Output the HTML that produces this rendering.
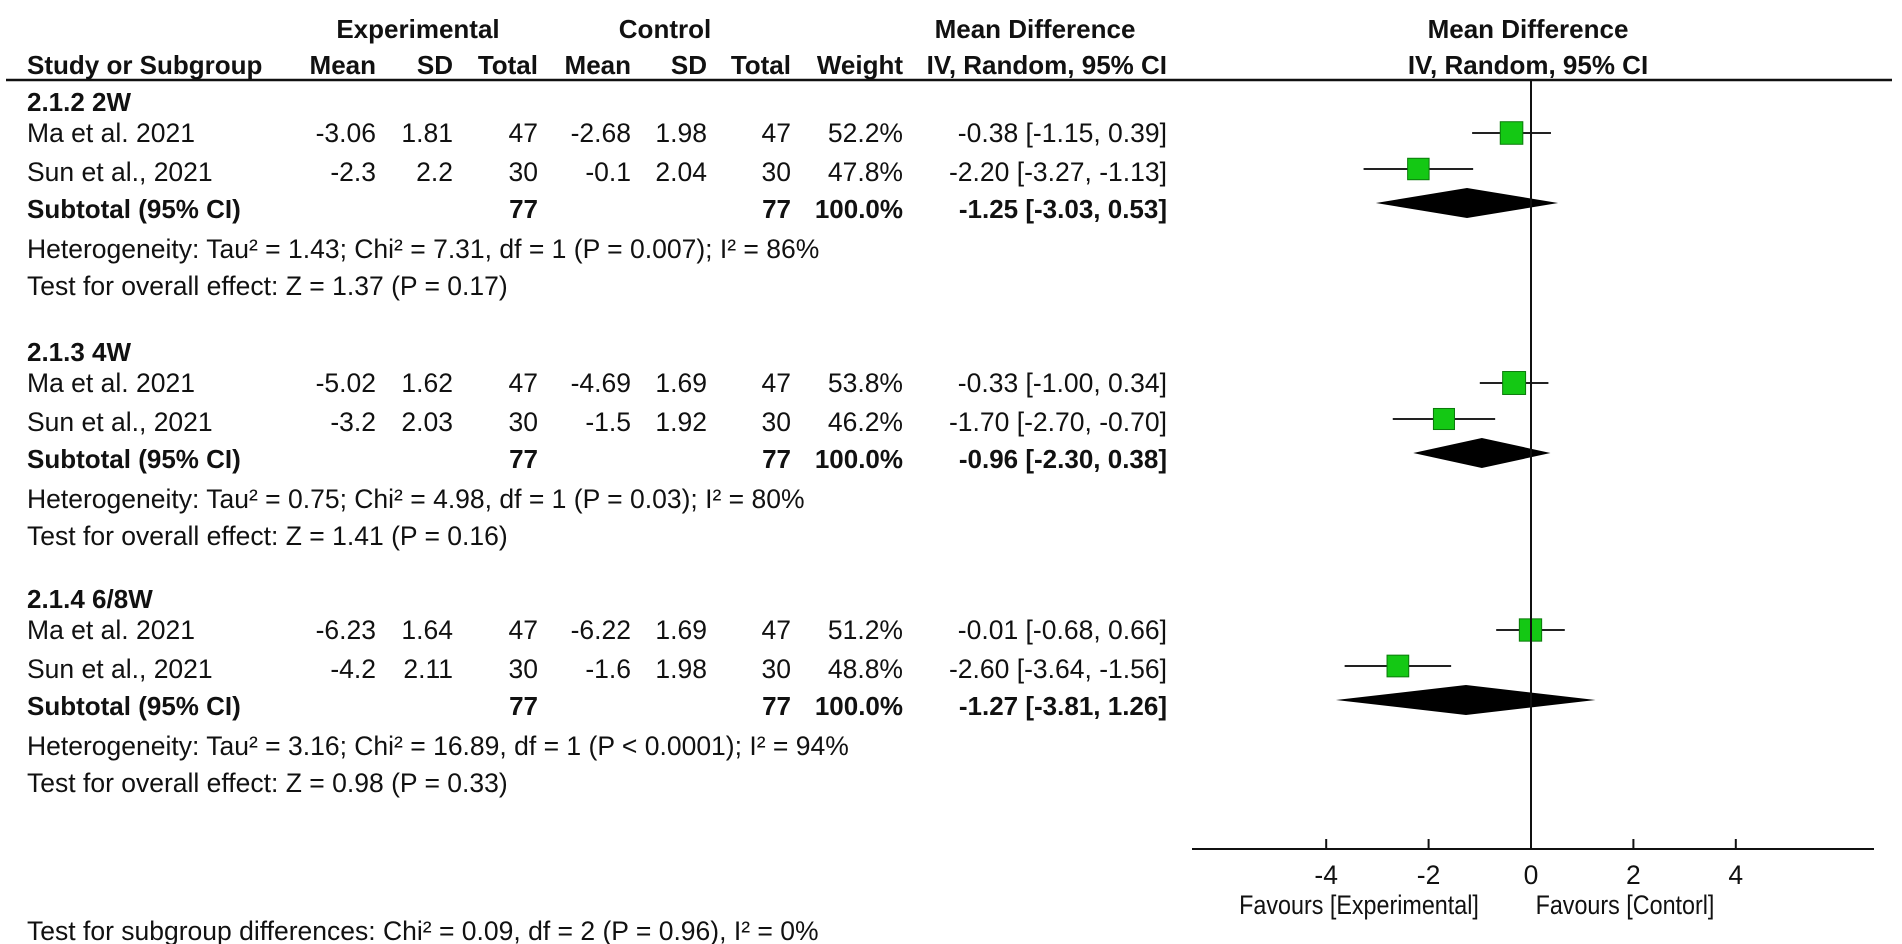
<!DOCTYPE html>
<html><head><meta charset="utf-8"><style>
html,body{margin:0;padding:0;background:#fff;}
svg{display:block;}
text{font-family:"Liberation Sans",sans-serif;font-size:26.5px;fill:#111;}
.b{font-weight:bold;font-size:26px;}
</style></head><body>
<svg id="fp" width="1902" height="944" viewBox="0 0 1902 944" xmlns="http://www.w3.org/2000/svg">
<g id="hdr">
<text x="418" y="38" text-anchor="middle" class="b">Experimental</text>
<text x="665" y="38" text-anchor="middle" class="b">Control</text>
<text x="1035" y="38" text-anchor="middle" class="b">Mean Difference</text>
<text x="1528" y="38" text-anchor="middle" class="b">Mean Difference</text>
<text x="27" y="74" class="b">Study or Subgroup</text>
<text x="1167" y="74" text-anchor="end" class="b">IV, Random, 95% CI</text>
<text x="1528" y="74" text-anchor="middle" class="b">IV, Random, 95% CI</text>
<line x1="6" y1="80" x2="1892" y2="80" stroke="#111" stroke-width="2.5"/>
</g>
<g id="tbl"></g>
<g id="plot"></g>
</svg>
<script>
const groups = ["2.1.2 2W","2.1.3 4W","2.1.4 6/8W"];
const studies = ["Ma et al. 2021","Sun et al., 2021"];
const expMean = [["-3.06","-2.3"],["-5.02","-3.2"],["-6.23","-4.2"]];
const expSD = [["1.81","2.2"],["1.62","2.03"],["1.64","2.11"]];
const expN = [["47","30"],["47","30"],["47","30"]];
const ctlMean = [["-2.68","-0.1"],["-4.69","-1.5"],["-6.22","-1.6"]];
const ctlSD = [["1.98","2.04"],["1.69","1.92"],["1.69","1.98"]];
const ctlN = [["47","30"],["47","30"],["47","30"]];
const weights = [[52.2,47.8],[53.8,46.2],[51.2,48.8]];
const md = [[-0.38,-2.20],[-0.33,-1.70],[-0.01,-2.60]];
const lo = [[-1.15,-3.27],[-1.00,-2.70],[-0.68,-3.64]];
const hi = [[0.39,-1.13],[0.34,-0.70],[0.66,-1.56]];
const subMd = [-1.25,-0.96,-1.27];
const subLo = [-3.03,-2.30,-3.81];
const subHi = [0.53,0.38,1.26];
const hetText = ["Heterogeneity: Tau² = 1.43; Chi² = 7.31, df = 1 (P = 0.007); I² = 86%","Heterogeneity: Tau² = 0.75; Chi² = 4.98, df = 1 (P = 0.03); I² = 80%","Heterogeneity: Tau² = 3.16; Chi² = 16.89, df = 1 (P < 0.0001); I² = 94%"];
const testText = ["Test for overall effect: Z = 1.37 (P = 0.17)","Test for overall effect: Z = 1.41 (P = 0.16)","Test for overall effect: Z = 0.98 (P = 0.33)"];
const ticks = [-4,-2,0,2,4];

const NS="http://www.w3.org/2000/svg";
const X0=1531, PX=51.2;
function xs(v){return X0+v*PX;}
function f2(v){return (v<0?"-":"")+Math.abs(v).toFixed(2);}
const tbl=document.getElementById('tbl'), plot=document.getElementById('plot'), hdr=document.getElementById('hdr');
function txt(parent,x,y,s,anchor,bold,sx){
  const t=document.createElementNS(NS,'text');
  if(sx){t.setAttribute('x',0);t.setAttribute('y',0);t.setAttribute('transform','translate('+x+','+y+') scale('+sx+',1)');}
  else{t.setAttribute('x',x);t.setAttribute('y',y);}
  if(anchor)t.setAttribute('text-anchor',anchor);
  if(bold)t.setAttribute('class','b');
  t.textContent=s;parent.appendChild(t);return t;
}
function el(parent,tag,attrs){const e=document.createElementNS(NS,tag);for(const k in attrs)e.setAttribute(k,attrs[k]);parent.appendChild(e);return e;}

const colX=[376,453,538,631,707,791,903];
const colHdr=["Mean","SD","Total","Mean","SD","Total","Weight"];
colHdr.forEach((h,i)=>{
  const t=txt(hdr,colX[i],74,h,'end',true);
  
  
});

const groupTop=[102,352,599];
const fmtCI=(m,l,h)=>f2(m)+" ["+f2(l)+", "+f2(h)+"]";
groups.forEach((g,gi)=>{
  const y0=groupTop[gi];
  const t=txt(tbl,27,y0+9,g,null,true);
  
  
  const textY=[y0+31,y0+70];
  const markY=[y0+31,y0+67];
  studies.forEach((s,si)=>{
    const y=markY[si], b=textY[si]+9;
    const r=el(tbl,'g',{});
    
    
    txt(r,27,b,s);
    txt(r,colX[0],b,expMean[gi][si],'end');
    txt(r,colX[1],b,expSD[gi][si],'end');
    txt(r,colX[2],b,expN[gi][si],'end');
    txt(r,colX[3],b,ctlMean[gi][si],'end');
    txt(r,colX[4],b,ctlSD[gi][si],'end');
    txt(r,colX[5],b,ctlN[gi][si],'end');
    txt(r,colX[6],b,weights[gi][si].toFixed(1)+"%",'end');
    txt(r,1167,b,fmtCI(md[gi][si],lo[gi][si],hi[gi][si]),'end');
    const ci=el(plot,'line',{x1:xs(lo[gi][si]),x2:xs(hi[gi][si]),y1:y,y2:y,stroke:'#222','stroke-width':2});
    
    
    const sz=22+(weights[gi][si]-50)*0.25;
    const sq=el(plot,'rect',{x:xs(md[gi][si])-sz/2,y:y-sz/2,width:sz,height:sz,fill:'#14c814',stroke:'#0a7a0a','stroke-width':1});
    
    
  });
  const ys=y0+101, bs=y0+107+9;
  const sr=el(tbl,'g',{});
  
  
  txt(sr,27,bs,"Subtotal (95% CI)",null,true);
  txt(sr,colX[2],bs,"77",'end',true);
  txt(sr,colX[5],bs,"77",'end',true);
  txt(sr,colX[6],bs,"100.0%",'end',true);
  txt(sr,1167,bs,fmtCI(subMd[gi],subLo[gi],subHi[gi]),'end',true);
  const h=txt(tbl,27,y0+156,hetText[gi]);
  
  
  const te=txt(tbl,27,y0+193,testText[gi]);
  
  
  const d=el(plot,'polygon',{points:[xs(subLo[gi])+','+ys, xs(subMd[gi])+','+(ys-15), xs(subHi[gi])+','+ys, xs(subMd[gi])+','+(ys+15)].join(' '),fill:'#000'});
  
  
});
const sg=txt(tbl,27,940,"Test for subgroup differences: Chi² = 0.09, df = 2 (P = 0.96), I² = 0%");



const zl=el(plot,'line',{x1:xs(0),x2:xs(0),y1:80,y2:849,stroke:'#111','stroke-width':2});


const ax=el(plot,'line',{x1:1192,x2:1874,y1:849,y2:849,stroke:'#111','stroke-width':2});


ticks.forEach(v=>{
  const tk=el(plot,'line',{x1:xs(v),x2:xs(v),y1:839,y2:849,stroke:'#111','stroke-width':2});
  
  
  const tl=txt(plot,xs(v),884,String(v),'middle');
  
  
});
const fe=txt(plot,1359,914,"Favours [Experimental]",'middle',false,0.88);


const fc=txt(plot,1625,914,"Favours [Contorl]",'middle',false,0.88);


</script>
</body></html>
